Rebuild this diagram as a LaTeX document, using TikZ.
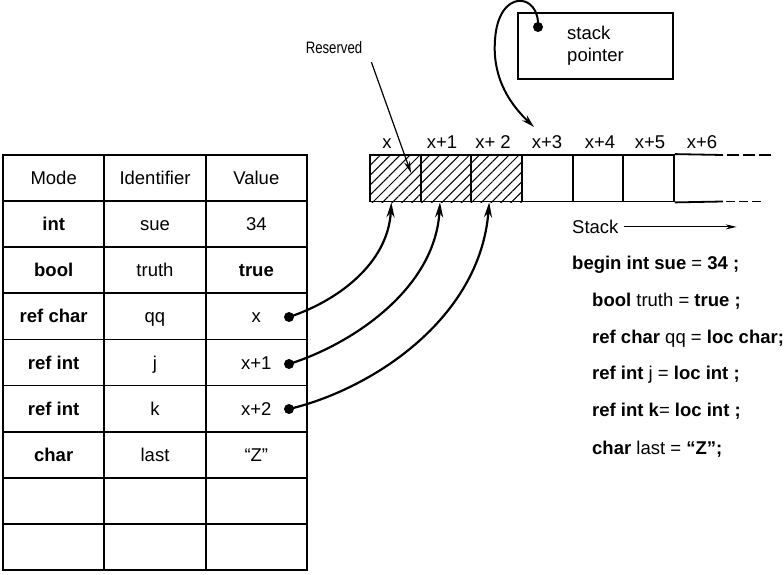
\documentclass[tikz,border=0pt]{standalone}
\usepackage{fontspec}
\setmainfont{Liberation Sans}
\newfontfamily\narrowsans{Liberation Sans}[FakeStretch=0.8]
\usetikzlibrary{arrows.meta,patterns.meta}

\begin{document}
\begin{tikzpicture}[x=1pt,y=-1pt,
  big/.style={font=\fontsize{18.5}{22}\selectfont},
  cell/.style={draw, line width=1.8pt, minimum width=101.33pt, minimum height=46.11pt,
    inner sep=0pt, big, text height=13.2pt, text depth=0pt},
  slot/.style={draw, line width=1.8pt, minimum width=50.67pt, minimum height=46.5pt, inner sep=0pt},
  hatched/.style={pattern={Lines[angle=45,distance=7pt,line width=1pt]}},
  dot/.style={circle, fill, inner sep=0pt, minimum size=10pt},
  link/.style={line width=2.2pt, -{Stealth[length=15pt,width=8pt]}},
  code/.style={big, anchor=base west, inner sep=0pt},
  lbl/.style={big, inner sep=0pt, text height=13.2pt, text depth=0pt},
  rule/.style={line width=1.8pt}]
\useasboundingbox (0,0) rectangle (784,575);

% symbol table
\foreach \m/\i/\v [count=\r] in {
    Mode/Identifier/Value,
    \textbf{int}/sue/34,
    \textbf{bool}/truth/\textbf{true},
    \textbf{ref char}/qq/x,
    \textbf{ref int}/j/x+1,
    \textbf{ref int}/k/x+2,
    \textbf{char}/last/“Z”,
    {}/{}/{},
    {}/{}/{}} {
  \pgfmathsetmacro{\yy}{155+46.11*(\r-0.5)}
  \node[cell] (t-\r-1) at (53.67,\yy) {\m};
  \node[cell] (t-\r-2) at (155,\yy) {\i};
  \node[cell] (t-\r-3) at (256.33,\yy) {\v};
}

% stack cells
\foreach \k in {0,...,5} {
  \pgfmathsetmacro{\xx}{370+50.67*(\k+0.5)}
  \node[slot] (s\k) at (\xx,178.25) {};
}
\foreach \k in {0,1,2} {
  \path[hatched] (s\k.south west) rectangle (s\k.north east);
  \node[slot] at (s\k) {};
}
% open end of the stack
\coordinate (topend) at (723,155);
\coordinate (botend) at (723,201.5);
\draw[rule] (s5.north east) -- (topend);
\draw[rule] (s5.south east) -- (botend);
\draw[rule, dash pattern=on 12pt off 4pt] ([xshift=4pt]topend) -- ++(44,0);
\draw[rule, dash pattern=on 9pt off 4pt] ([xshift=3pt]botend) -- ++(35,0);

% cell addresses
\node[lbl] (l0) at (387,142) {x};
\node[lbl] (l1) at (442,142) {x+1};
\node[lbl] (l2) at (493,142) {x+ 2};
\node[lbl] (l3) at (547,142) {x+3};
\node[lbl] (l4) at (600,142) {x+4};
\node[lbl] (l5) at (650,142) {x+5};
\node[lbl] (l6) at (702,142) {x+6};

% reserved marker
\node[font=\narrowsans\fontsize{16.5}{18}\selectfont, inner sep=0pt] (res) at (334,48) {Reserved};
\coordinate (rtip) at (411,173);
\draw[line width=1.2pt, -{Stealth[length=12pt,width=6pt]}]
  ([shift={(9,8)}]res.south east) -- (rtip);

% stack pointer
\node[draw, line width=1.5pt, minimum width=155pt, minimum height=66pt, align=left,
  font=\fontsize{18.5}{22}\selectfont] (sp) at (595.5,46) {stack\\pointer};
\node[dot] (spd) at (538,27) {};
\coordinate (sptip) at (534,127);
\draw[line width=2pt, -{Stealth[length=13pt,width=7pt]}]
  (spd.center) .. controls (540,-8) and (498,-12) .. (495,40)
  .. controls (492,80) and (512,106) .. (sptip);

% reference pointers
\node[dot] (d1) at (289,317) {};
\node[dot] (d2) at (289,364) {};
\node[dot] (d3) at (289,409) {};
\draw[link] (d1.center) .. controls (335,302) and (388,265) .. ([xshift=-4pt]s0.south);
\draw[link] (d2.center) .. controls (350,345) and (435,290) .. ([xshift=-6pt]s1.south);
\draw[link] (d3.center) .. controls (370,390) and (480,320) .. ([xshift=-7.5pt]s2.south);

% program text
\node[code] (stk) at (572,233.5) {Stack};
\draw[line width=1pt, -{Stealth[length=11pt,width=5pt]}]
  ([xshift=5pt]stk.east) -- ([xshift=118pt]stk.east);
\node[code] (c1) at (572,269.5) {\textbf{begin int sue} = \textbf{34 ;}};
\node[code] (c2) at (592,306.5) {\textbf{bool} truth = \textbf{true ;}};
\node[code] (c3) at (592,343.5) {\textbf{ref char} qq = \textbf{loc char;}};
\node[code] (c4) at (592,379.5) {\textbf{ref int} j = \textbf{loc int ;}};
\node[code] (c5) at (592,416.5) {\textbf{ref int k}= \textbf{loc int ;}};
\node[code] (c6) at (592,454.5) {\textbf{char} last = \textbf{“Z”;}};
\end{tikzpicture}
\end{document}
